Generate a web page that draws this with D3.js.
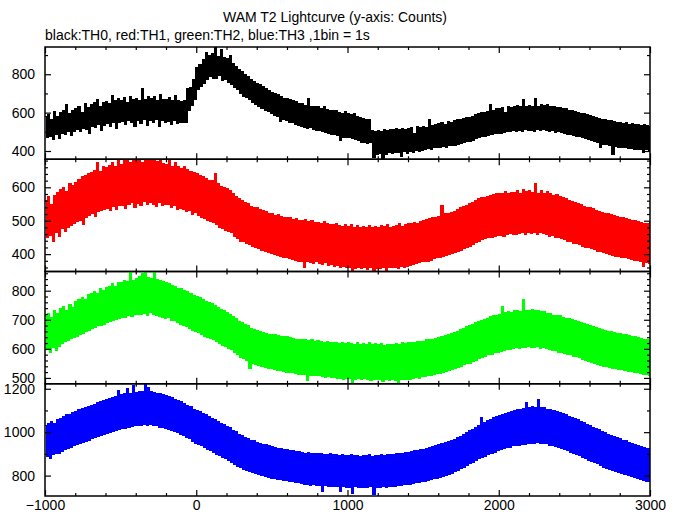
<!DOCTYPE html>
<html><head><meta charset="utf-8">
<script src="https://cdn.jsdelivr.net/npm/d3@7"></script>
<style>body{margin:0;background:#fff}</style></head>
<body>
<svg id="c" width="680" height="515"></svg>
<script>
// time axis: first bin and bin spacing of the sampled curves (seconds)
const xStart = -1000, binStep = 10;

const th0 = [
580,470,590,478,565,462,605,485,578,468,
600,495,612,488,640,502,596,480,610,505,
622,515,630,505,598,520,648,512,625,495,
640,530,652,525,665,540,628,510,650,535,
655,545,648,530,690,552,660,520,672,548,
662,555,675,540,650,560,685,548,668,530,
670,558,662,545,725,565,668,535,680,560,
672,552,680,565,660,530,695,558,665,550,
665,555,678,540,660,562,688,545,660,550,
655,548,662,552,725,615,730,640,770,668,
835,720,850,738,875,752,910,772,895,788,
905,782,938,778,890,795,928,770,885,775,
880,758,895,748,852,735,840,720,822,700,
812,685,798,678,785,668,770,652,760,642,
752,632,745,622,735,615,722,605,712,598,
705,588,698,580,692,555,682,568,672,560,
670,552,668,548,660,542,655,535,648,528,
645,522,638,518,672,525,630,512,632,510,
628,508,622,505,632,498,615,492,610,490,
608,488,612,482,600,455,595,472,602,470,
595,472,588,465,592,462,580,455,575,448,
570,448,565,440,560,448,505,370,500,385,
505,388,498,365,510,385,505,392,512,388,
510,392,515,395,508,372,518,398,512,390,
515,400,522,395,492,402,528,398,520,405,
528,408,522,412,562,410,530,418,538,420,
540,422,548,425,538,418,552,432,545,428,
555,432,560,435,565,442,568,448,572,450,
575,452,580,458,590,465,592,470,598,475,
600,478,605,482,642,488,610,495,618,492,
620,495,625,500,598,502,632,505,625,508,
630,505,635,510,628,502,668,512,632,508,
638,510,632,505,670,515,630,508,640,512,
635,508,640,505,628,510,632,500,625,502,
625,498,618,495,620,490,612,485,608,480,
605,478,600,475,595,470,592,465,588,460,
585,458,580,452,575,448,568,420,565,438,
560,435,555,430,558,385,550,425,548,422,
548,420,542,418,545,412,538,415,540,410,
538,410,535,408,532,392,538,410,530,405,
532];

const th1 = [
560,450,572,458,548,440,575,465,585,455,
592,478,600,470,588,482,612,488,605,492,
615,498,622,502,630,490,635,512,640,518,
642,522,650,515,672,528,645,532,660,535,
658,538,665,530,672,542,660,535,678,545,
668,545,678,538,684,550,672,555,682,540,
678,552,682,545,672,558,684,548,683,555,
680,550,684,542,675,555,683,545,670,548,
668,548,680,540,662,545,672,535,660,538,
655,535,662,528,652,532,645,520,642,525,
640,518,635,512,630,508,625,502,620,498,
618,495,640,490,610,482,602,478,598,472,
595,470,590,465,580,455,572,448,565,440,
560,438,555,432,550,430,542,425,540,420,
538,418,532,412,530,410,528,405,522,402,
520,400,515,398,518,395,512,392,510,390,
510,388,508,385,502,382,505,380,500,378,
500,360,502,378,498,375,500,372,495,378,
495,372,492,370,498,375,490,368,488,370,
488,365,490,368,485,362,482,365,488,360,
482,362,488,352,480,358,485,362,480,358,
482,360,480,355,485,362,478,350,482,358,
480,358,485,360,482,352,488,362,480,360,
482,362,485,358,490,365,482,362,488,365,
490,368,492,370,495,372,490,375,498,378,
500,378,502,380,505,382,510,388,508,390,
512,390,545,395,520,398,522,400,525,402,
528,405,532,410,538,412,542,418,545,422,
550,425,555,430,560,435,565,440,568,445,
570,448,572,450,575,452,578,455,580,458,
580,458,582,455,588,460,580,462,585,460,
585,460,590,462,582,465,592,460,588,466,
590,462,585,466,612,460,582,465,590,462,
582,460,588,455,580,458,575,452,578,450,
572,448,568,445,565,440,560,438,558,432,
555,432,550,430,548,425,542,422,540,420,
538,418,535,415,530,410,528,408,525,405,
522,402,520,400,518,398,515,395,512,395,
510,392,508,390,505,388,502,385,500,382,
500,382,498,380,495,365,492,375,490,372,
495];

const th2 = [
712,598,722,590,708,605,730,595,720,610,
738,620,745,625,732,630,752,635,742,640,
762,645,770,650,775,655,768,660,785,665,
790,670,795,675,788,680,805,682,798,685,
810,690,815,695,822,698,812,702,828,705,
828,708,835,710,830,715,860,712,835,720,
842,720,848,718,858,722,864,715,845,725,
842,720,862,715,838,712,835,710,832,705,
828,708,825,700,818,698,815,690,808,685,
805,682,800,678,795,670,788,665,782,660,
780,658,775,652,768,645,762,640,758,635,
755,632,748,625,742,620,735,612,730,608,
725,602,718,598,710,588,702,580,692,572,
688,568,682,562,678,535,670,550,665,548,
662,545,660,540,655,538,652,535,650,532,
650,530,648,528,645,525,642,522,640,520,
640,520,638,518,635,515,632,512,630,512,
632,512,630,492,628,508,630,510,625,508,
628,508,625,505,622,502,625,505,620,502,
622,502,620,500,618,498,622,496,618,500,
620,500,618,486,615,495,620,498,615,495,
618,498,615,495,620,492,615,496,618,495,
615,495,618,488,612,496,615,492,614,495,
615,492,618,484,615,496,620,495,618,496,
620,496,622,500,620,502,625,500,624,505,
625,505,630,508,632,510,630,512,636,515,
638,515,640,520,645,522,648,525,652,530,
655,532,660,538,665,542,670,548,675,550,
678,552,682,558,688,562,692,568,698,572,
700,575,705,580,710,582,712,588,715,590,
718,592,745,595,725,598,728,600,725,602,
730,605,732,602,728,606,768,605,732,610,
732,606,735,604,730,610,732,602,728,605,
728,602,722,600,720,596,715,594,712,590,
712,590,708,585,705,582,702,580,700,576,
698,574,692,570,690,565,685,560,682,556,
680,555,675,552,672,546,668,544,665,540,
662,540,660,536,658,532,655,532,652,530,
652,530,650,526,648,524,645,522,642,520,
640,520,638,516,635,514,632,512,630,510,
630];

const th3 = [
1030,890,1040,882,1048,898,1040,902,1058,905,
1062,912,1070,920,1078,925,1082,930,1090,938,
1095,945,1102,948,1108,952,1112,960,1118,965,
1122,970,1128,975,1135,980,1140,985,1145,990,
1148,995,1152,1000,1158,1005,1162,1010,1192,1012,
1170,1018,1175,1020,1198,1025,1178,1028,1212,1030,
1182,1030,1188,1032,1185,1035,1220,1030,1205,1035,
1185,1032,1182,1030,1178,1025,1175,1022,1170,1018,
1168,1015,1162,1010,1158,1005,1150,998,1145,990,
1140,985,1132,978,1122,970,1115,960,1105,950,
1098,945,1092,938,1085,930,1078,922,1070,915,
1062,908,1055,900,1048,892,1040,885,1032,878,
1025,870,1018,860,1008,852,1000,845,990,838,
982,830,975,825,970,820,962,815,958,810,
952,805,948,800,942,796,940,792,935,790,
932,788,930,785,925,782,922,780,920,778,
918,775,915,772,912,770,910,768,908,765,
905,762,902,760,905,758,900,760,902,756,
900,755,902,728,898,756,895,752,900,750,
895,752,898,750,892,730,895,750,890,748,
892,748,895,718,890,750,892,745,888,748,
892,748,890,745,895,750,888,712,892,748,
890,745,895,750,892,748,898,752,895,750,
898,752,900,755,902,758,900,760,905,760,
905,762,910,765,912,768,915,770,918,772,
920,775,922,780,928,782,932,788,935,790,
940,792,945,798,950,802,955,808,960,812,
965,818,972,825,980,832,990,840,998,848,
1005,855,1012,862,1022,870,1030,878,1065,885,
1045,890,1052,898,1058,902,1065,910,1070,915,
1075,920,1080,925,1085,930,1090,932,1095,938,
1098,940,1102,942,1105,946,1108,945,1135,950,
1112,948,1115,950,1110,952,1150,948,1112,950,
1110,948,1105,942,1102,940,1098,935,1092,930,
1090,928,1085,922,1078,915,1072,910,1065,902,
1060,898,1055,892,1048,885,1042,880,1035,872,
1030,868,1022,860,1015,855,1010,848,1002,840,
995,835,990,830,985,825,980,820,972,815,
968,810,962,805,958,800,952,796,948,792,
942,790,938,785,932,780,930,776,925,772,
925];

const seriesData = [th0, th1, th2, th3];
const colors = ["#000000", "#ff0000", "#00ff00", "#0000ff"];
const yDomains = [[357, 942], [348, 684], [480, 866], [706, 1223]];
const yMajorTicks = [[400, 600, 800], [400, 500, 600], [500, 600, 700, 800], [800, 1000, 1200]];
const yMinorTicks = [[500, 700, 900],
  [360,380,420,440,460,480,520,540,560,580,620,640,660,680],
  [520,540,560,580,620,640,660,680,720,740,760,780,820,840,860],
  [900, 1100]];
const xDomain = [-1000, 3000];
const xMajorTicks = [-1000, 0, 1000, 2000, 3000];
const xMinorTicks = [-800,-600,-400,-200,200,400,600,800,1200,1400,1600,1800,2200,2400,2600,2800];
const titleText = "WAM T2 Lightcurve (y-axis: Counts)";
const subtitleText = "black:TH0, red:TH1, green:TH2, blue:TH3 ,1bin = 1s";

const svg = d3.select("#c");
const FONT = "'Liberation Sans', Arial, Helvetica, sans-serif";
const L = 45, R = 650, T0 = 47, PH = 112.25;
const x = d3.scaleLinear().domain(xDomain).range([L, R]);

svg.append("text").attr("x", 335).attr("y", 22).attr("text-anchor", "middle")
  .attr("font-family", FONT).attr("font-size", 14).text(titleText);
svg.append("text").attr("x", 45).attr("y", 40)
  .attr("font-family", FONT).attr("font-size", 14).text(subtitleText);

seriesData.forEach((vals, i) => {
  const top = T0 + i * PH, bot = top + PH;
  const y = d3.scaleLinear().domain(yDomains[i]).range([bot, top]);
  const g = svg.append("g");
  g.append("clipPath").attr("id", "clip" + i).append("rect")
    .attr("x", L).attr("y", top).attr("width", R - L).attr("height", PH);
  const line = d3.line().curve(d3.curveStepAfter)
    .x((d, j) => x(xStart + j * binStep)).y(d => y(d));
  g.append("path").datum(vals).attr("clip-path", `url(#clip${i})`)
    .attr("fill", "none").attr("stroke", colors[i]).attr("stroke-width", 1.6)
    .attr("shape-rendering", "crispEdges")
    .attr("d", line);

  const addAxis = (axis, tx, ty, labels) => {
    const a = g.append("g").attr("transform", `translate(${tx},${ty})`).call(axis);
    a.select(".domain").remove();
    a.selectAll("line").attr("stroke", "#000").attr("stroke-width", 1.2);
    if (labels) a.selectAll("text").attr("font-family", FONT).attr("font-size", 14).attr("fill", "#000");
    return a;
  };
  // left
  addAxis(d3.axisLeft(y).tickValues(yMajorTicks[i]).tickSize(-6).tickPadding(10).tickFormat(d3.format("d")), L, 0, true);
  addAxis(d3.axisLeft(y).tickValues(yMinorTicks[i]).tickSize(-3).tickFormat(""), L, 0, false);
  // right
  addAxis(d3.axisRight(y).tickValues(yMajorTicks[i]).tickSize(-6).tickFormat(""), R, 0, false);
  addAxis(d3.axisRight(y).tickValues(yMinorTicks[i]).tickSize(-3).tickFormat(""), R, 0, false);
  // top
  addAxis(d3.axisTop(x).tickValues(xMajorTicks).tickSize(-6).tickFormat(""), 0, top, false);
  addAxis(d3.axisTop(x).tickValues(xMinorTicks).tickSize(-3).tickFormat(""), 0, top, false);
  // bottom
  const last = i === seriesData.length - 1;
  addAxis(d3.axisBottom(x).tickValues(xMajorTicks).tickSize(-6).tickPadding(4)
    .tickFormat(last ? d3.format("d") : ""), 0, bot, last);
  addAxis(d3.axisBottom(x).tickValues(xMinorTicks).tickSize(-3).tickFormat(""), 0, bot, false);

  g.append("rect").attr("x", L).attr("y", top).attr("width", R - L).attr("height", PH)
    .attr("fill", "none").attr("stroke", "#000").attr("stroke-width", 1.5);
});
</script>
</body></html>
